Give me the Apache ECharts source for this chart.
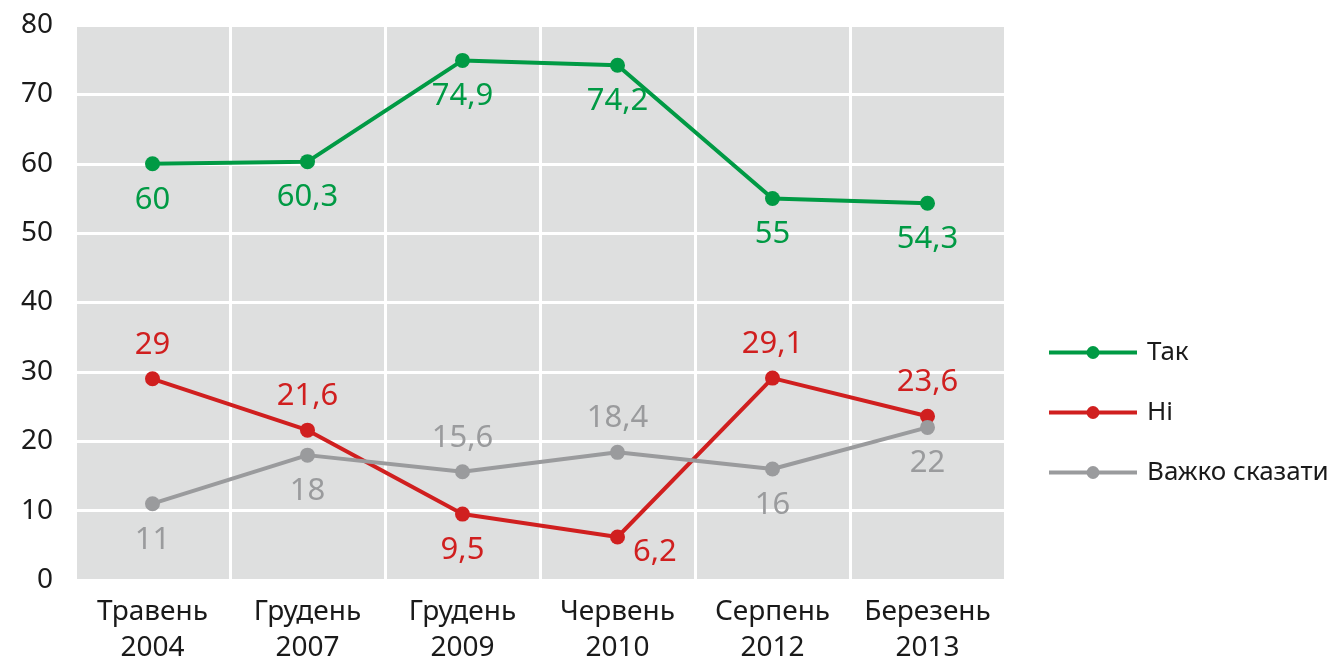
<!DOCTYPE html>
<html>
<head>
<meta charset="utf-8">
<script src="https://cdn.jsdelivr.net/npm/echarts@6/dist/echarts.min.js"></script>
<style>
html,body{margin:0;padding:0;background:#fff;overflow:hidden;}
#chart{width:1336px;height:658px;}
</style>
</head>
<body>
<div id="chart"></div>
<script>
const categories = ['Травень\n2004', 'Грудень\n2007', 'Грудень\n2009', 'Червень\n2010', 'Серпень\n2012', 'Березень\n2013'];
const tak = [60, 60.3, 74.9, 74.2, 55, 54.3];
const ni = [29, 21.6, 9.5, 6.2, 29.1, 23.6];
const vazhko = [11, 18, 15.6, 18.4, 16, 22];
const yTicks = [0, 10, 20, 30, 40, 50, 60, 70, 80];

const seriesNames = ['Так', 'Ні', 'Важко сказати'];
const colors = ['#009a44', '#d01f1f', '#9a9b9d'];

// label placement per point (style, not data)
const takPos = ['bottom', 'bottom', 'bottom', 'bottom', 'bottom', 'bottom'];
const niPos = ['top', 'top', 'bottom', 'right', 'top', 'top'];
const vazhkoPos = ['bottom', 'bottom', 'top', 'top', 'bottom', 'bottom'];

const FONT = 'Noto Sans';

function buildData(values, positions) {
  return values.map((v, i) => {
    const pos = positions[i];
    const item = { value: v, label: { position: pos, distance: pos === 'bottom' ? 13 : 11 } };
    if (pos === 'right') { item.label.offset = [0, 15]; item.label.distance = 8; }
    return item;
  });
}

function makeSeries(name, values, positions, color) {
  return {
    name: name,
    type: 'line',
    data: buildData(values, positions),
    symbol: 'circle',
    symbolSize: 15,
    lineStyle: { color: color, width: 4 },
    itemStyle: { color: color },
    label: {
      show: true,
      color: color,
      fontFamily: FONT,
      fontSize: 31,
      formatter: p => String(p.value).replace('.', ',')
    },
    emphasis: { disabled: true },
    animation: false
  };
}

const chart = echarts.init(document.getElementById('chart'));
chart.setOption({
  animation: false,
  textStyle: { fontFamily: FONT },
  grid: {
    left: 75, right: 331, top: 25, bottom: 78,
    outerBoundsMode: 'none',
    containLabel: false,
    show: true, backgroundColor: '#dedfdf', borderWidth: 0
  },
  legend: {
    orient: 'vertical',
    left: 1042,
    top: 332,
    itemWidth: 88,
    itemHeight: 16,
    itemGap: 29,
    data: seriesNames,
    lineStyle: { width: 4 },
    textStyle: { fontFamily: FONT, fontSize: 26, color: '#1a1a1a', lineHeight: 31, padding: [0, 0, 0, 5] }
  },
  xAxis: {
    type: 'category',
    data: categories,
    boundaryGap: true,
    axisLine: { show: false },
    axisTick: { show: false },
    splitLine: { show: true, lineStyle: { color: '#ffffff', width: 3 } },
    axisLabel: {
      color: '#1a1a1a', fontFamily: FONT, fontSize: 28, lineHeight: 36, margin: 14, interval: 0
    }
  },
  yAxis: {
    type: 'value',
    min: yTicks[0],
    max: yTicks[yTicks.length - 1],
    interval: 10,
    axisLine: { show: false },
    axisTick: { show: false },
    splitLine: { show: true, lineStyle: { color: '#ffffff', width: 3 } },
    axisLabel: { color: '#1a1a1a', fontFamily: FONT, fontSize: 28, margin: 22 }
  },
  series: [
    makeSeries(seriesNames[0], tak, takPos, colors[0]),
    makeSeries(seriesNames[1], ni, niPos, colors[1]),
    makeSeries(seriesNames[2], vazhko, vazhkoPos, colors[2])
  ]
});
</script>
</body>
</html>
